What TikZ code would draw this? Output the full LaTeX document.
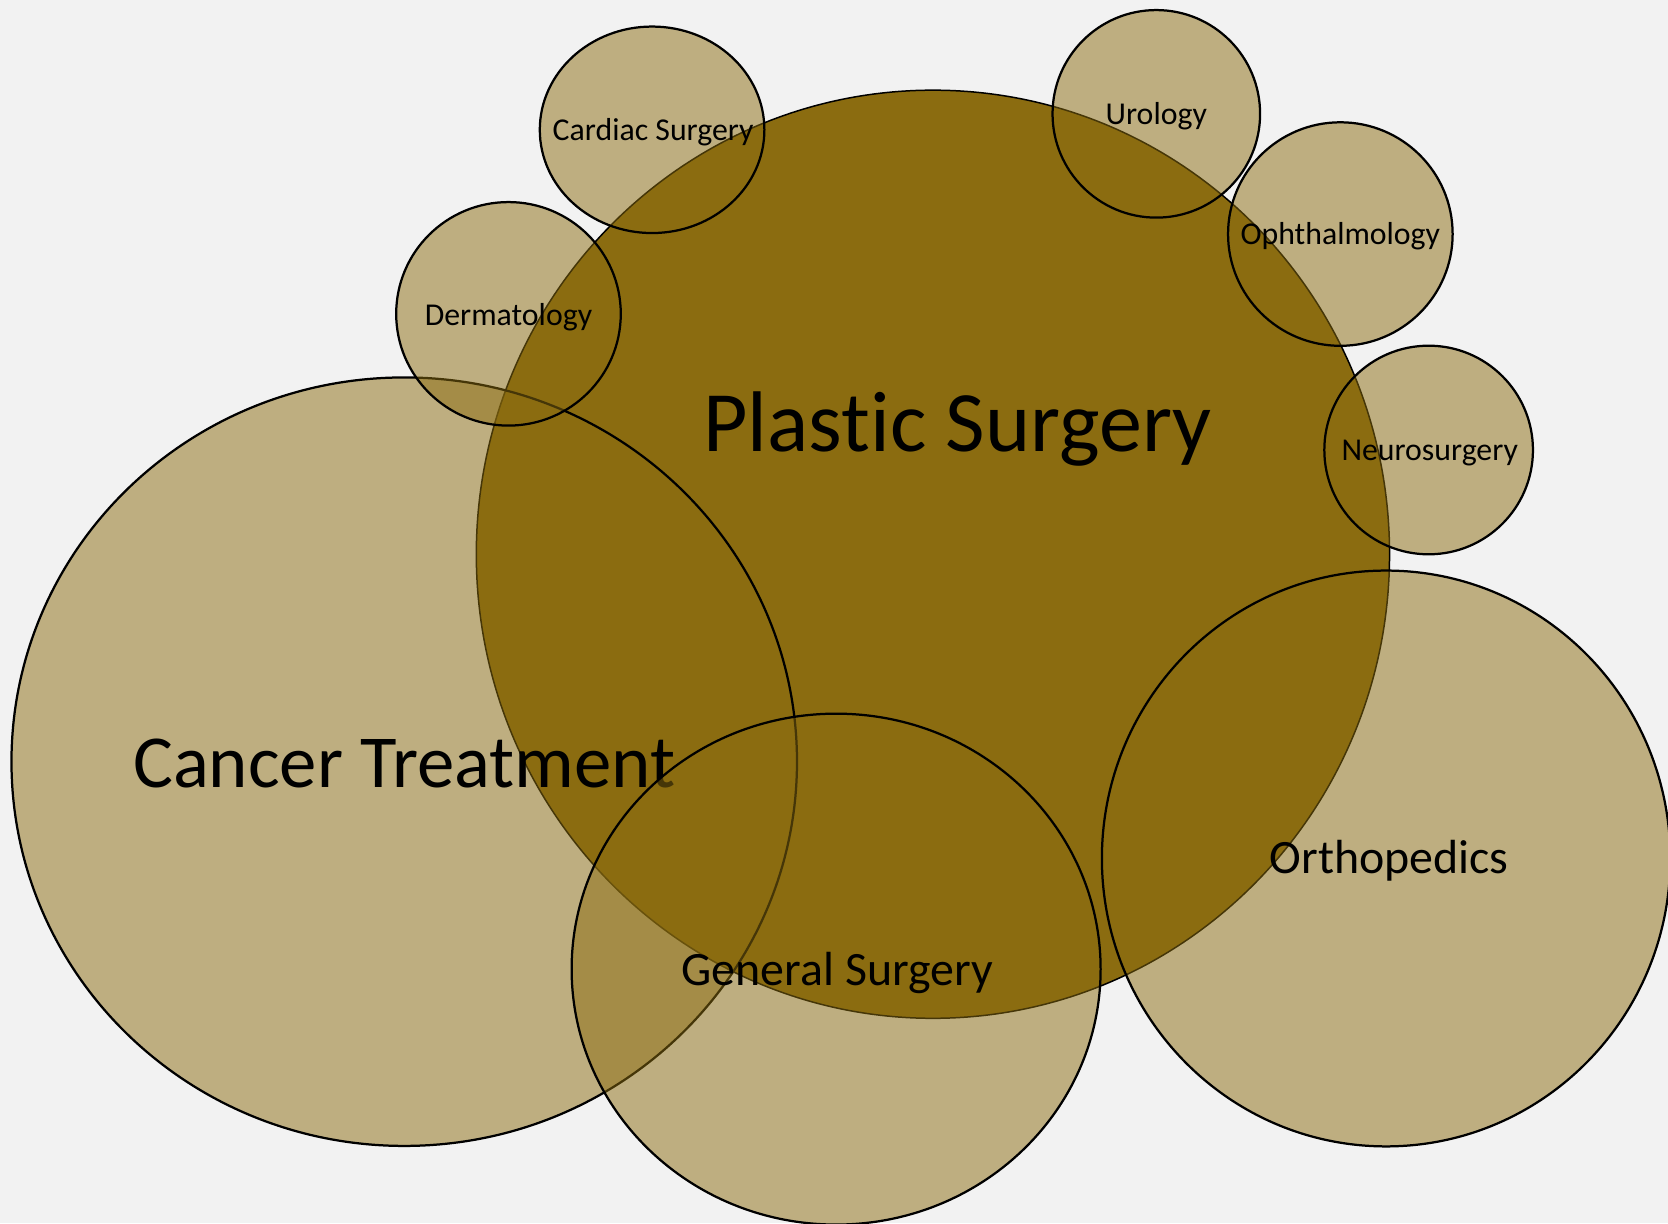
\documentclass[tikz,border=0pt]{standalone}
\usepackage{fontspec}
\setmainfont{Carlito}[Ligatures=NoCommon]
\usepackage{tikz}
\usetikzlibrary{shapes.geometric, positioning}
\usepackage{xcolor}
\definecolor{olivefill}{RGB}{139,108,16}
\definecolor{pagebg}{RGB}{242,242,242}

\begin{document}
\begin{tikzpicture}[x=0.01cm, y=-0.01cm,
    core/.style = {ellipse, draw=black, line width=0.4pt, fill=olivefill, inner sep=0pt},
    bubble/.style = {ellipse, draw=black, line width=0.6pt, fill=olivefill, fill opacity=0.5, inner sep=0pt},
    hugelabel/.style = {anchor=base, inner sep=0pt, font=\fontsize{23}{28}\selectfont},
    biglabel/.style = {anchor=base, inner sep=0pt, font=\fontsize{20}{24}\selectfont},
    midlabel/.style = {anchor=base, inner sep=0pt, font=\fontsize{12.8}{15}\selectfont},
    smalllabel/.style = {anchor=base, inner sep=0pt, font=\fontsize{8.5}{10}\selectfont}
]

\useasboundingbox (0,0) rectangle (1568,1150);
\fill [pagebg] (0,0) rectangle (1568,1150);
\clip (0,0) rectangle (1568,1150);

% the large areas
\node (plastic) [core, minimum width=8.58cm, minimum height=8.72cm] at (877,521) {};
\node (plastic_lbl) [hugelabel] at (900,424) {Plastic Surgery};
\node (cancer) [bubble, minimum width=7.38cm, minimum height=7.22cm] at (380,716) {};
\node (cancer_lbl) [biglabel] at (380,740) {Cancer Treatment};
\node (general) [bubble, minimum width=4.97cm, minimum height=4.80cm] at (786,911) {};
\node (general_lbl) [midlabel] at (787,926) {General Surgery};
\node (ortho) [bubble, minimum width=5.34cm, minimum height=5.41cm] at (1303,807) {};
\node (ortho_lbl) [midlabel] at (1306,821) {Orthopedics};

% the small areas
\node (derma) [bubble, minimum width=2.11cm, minimum height=2.10cm] at (478,295) {};
\node (derma_lbl) [smalllabel] at (478,306) {Dermatology};
\node (cardiac) [bubble, minimum width=2.11cm, minimum height=1.94cm] at (613,122) {};
\node (cardiac_lbl) [smalllabel] at (614,132) {Cardiac Surgery};
\node (uro) [bubble, minimum width=1.95cm, minimum height=1.95cm] at (1087,107) {};
\node (uro_lbl) [smalllabel] at (1087,117) {Urology};
\node (ophth) [bubble, minimum width=2.11cm, minimum height=2.10cm] at (1260,220) {};
\node (ophth_lbl) [smalllabel] at (1260,230) {Ophthalmology};
\node (neuro) [bubble, minimum width=1.96cm, minimum height=1.96cm] at (1343,423) {};
\node (neuro_lbl) [smalllabel] at (1344,433) {Neurosurgery};

\end{tikzpicture}
\end{document}
